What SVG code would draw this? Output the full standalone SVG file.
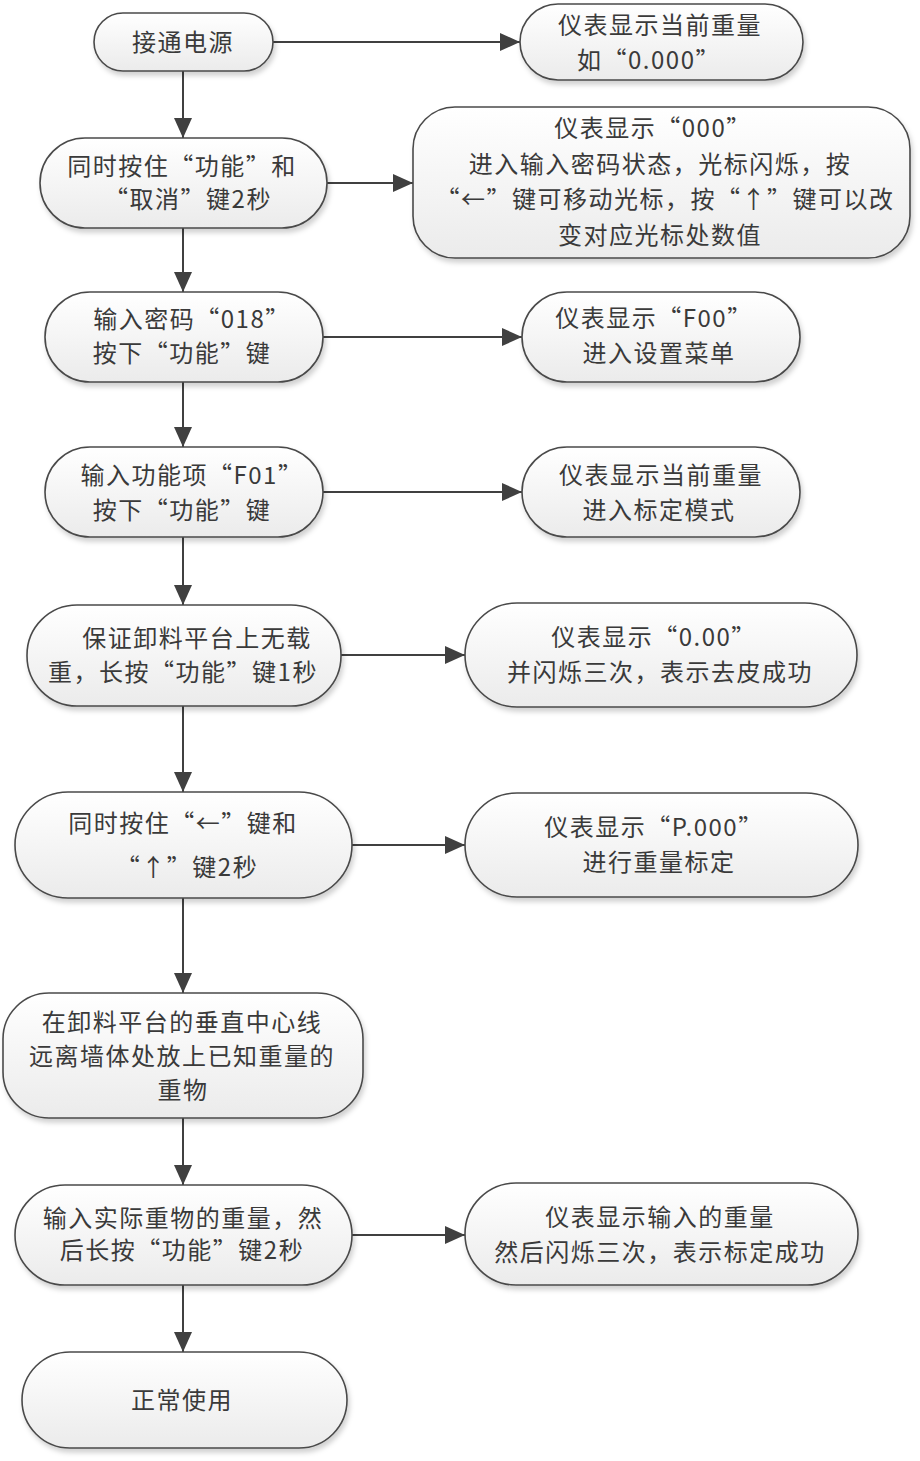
<svg xmlns="http://www.w3.org/2000/svg" width="920" height="1461" viewBox="0 0 920 1461">
<style>
.n{fill:url(#g);stroke:#4a4a4a;stroke-width:1.6;filter:url(#sh)}
.t{font-family:"Noto Sans CJK SC","Liberation Sans",sans-serif;font-size:24px;letter-spacing:1.5px;fill:#3a3a3a;text-anchor:middle}
.c{stroke:#404040;stroke-width:2;fill:none;marker-end:url(#ah)}
</style>
<defs>
<linearGradient id="g" x1="0" y1="0" x2="0" y2="1">
<stop offset="0" stop-color="#ffffff"/>
<stop offset="1" stop-color="#ebebeb"/>
</linearGradient>
<filter id="sh" x="-10%" y="-10%" width="125%" height="135%">
<feDropShadow dx="2" dy="4" stdDeviation="2.5" flood-color="#000" flood-opacity="0.18"/>
</filter>
<marker id="ah" markerUnits="userSpaceOnUse" markerWidth="20" markerHeight="18" refX="20" refY="9" orient="auto">
<path d="M0,0 L20,9 L0,18 z" fill="#404040"/>
</marker>
</defs>
<rect width="920" height="1461" fill="#fff"/>
<g id="connectors">
<line class="c" x1="183" y1="71" x2="183" y2="138"/>
<line class="c" x1="183" y1="228" x2="183" y2="292"/>
<line class="c" x1="183" y1="382" x2="183" y2="447"/>
<line class="c" x1="183" y1="537" x2="183" y2="605"/>
<line class="c" x1="183" y1="706" x2="183" y2="792"/>
<line class="c" x1="183" y1="898" x2="183" y2="993"/>
<line class="c" x1="183" y1="1118" x2="183" y2="1185"/>
<line class="c" x1="183" y1="1285" x2="183" y2="1352"/>
<line class="c" x1="273" y1="42" x2="520" y2="42"/>
<line class="c" x1="327" y1="183" x2="413" y2="183"/>
<line class="c" x1="323" y1="337" x2="522" y2="337"/>
<line class="c" x1="323" y1="492" x2="522" y2="492"/>
<line class="c" x1="341" y1="655" x2="465" y2="655"/>
<line class="c" x1="352" y1="845" x2="465" y2="845"/>
<line class="c" x1="352" y1="1235" x2="465" y2="1235"/>
</g>
<g id="n1"><rect class="n" x="94" y="13" width="179" height="58" rx="29"/>
<text class="t" x="183" y="51">接通电源</text></g>
<g id="r1"><rect class="n" x="520" y="4" width="283" height="76" rx="38"/>
<text class="t" x="660" y="34">仪表显示当前重量</text>
<text class="t" x="649" y="69">如“0.000”</text></g>
<g id="n2"><rect class="n" x="40" y="138" width="287" height="90" rx="45"/>
<text class="t" x="182" y="175">同时按住“功能”和</text>
<text class="t" x="188" y="208">“取消”键2秒</text></g>
<g id="r2"><rect class="n" x="413" y="107" width="497" height="151" rx="42"/>
<text class="t" x="653" y="137">仪表显示“000”</text>
<text class="t" x="660" y="173">进入输入密码状态，光标闪烁，按</text>
<text class="t" x="665" y="208">“←”键可移动光标，按“↑”键可以改</text>
<text class="t" x="660" y="244">变对应光标处数值</text></g>
<g id="n3"><rect class="n" x="45" y="292" width="278" height="90" rx="45"/>
<text class="t" x="192" y="328">输入密码“018”</text>
<text class="t" x="182" y="362">按下“功能”键</text></g>
<g id="r3"><rect class="n" x="522" y="292" width="278" height="90" rx="45"/>
<text class="t" x="654" y="327">仪表显示“F00”</text>
<text class="t" x="659" y="362">进入设置菜单</text></g>
<g id="n4"><rect class="n" x="45" y="447" width="278" height="90" rx="45"/>
<text class="t" x="192" y="484">输入功能项“F01”</text>
<text class="t" x="182" y="519">按下“功能”键</text></g>
<g id="r4"><rect class="n" x="522" y="447" width="278" height="90" rx="45"/>
<text class="t" x="661" y="484">仪表显示当前重量</text>
<text class="t" x="659" y="519">进入标定模式</text></g>
<g id="n5"><rect class="n" x="27" y="605" width="314" height="101" rx="50"/>
<text class="t" x="197" y="647">保证卸料平台上无载</text>
<text class="t" x="183" y="681">重，长按“功能”键1秒</text></g>
<g id="r5"><rect class="n" x="465" y="603" width="392" height="104" rx="52"/>
<text class="t" x="654" y="646">仪表显示“0.00”</text>
<text class="t" x="660" y="681">并闪烁三次，表示去皮成功</text></g>
<g id="n6"><rect class="n" x="15" y="792" width="337" height="106" rx="53"/>
<text class="t" x="183" y="832">同时按住“←”键和</text>
<text class="t" x="187" y="876">“↑”键2秒</text></g>
<g id="r6"><rect class="n" x="465" y="793" width="393" height="104" rx="52"/>
<text class="t" x="654" y="836">仪表显示“P.000”</text>
<text class="t" x="659" y="871">进行重量标定</text></g>
<g id="n7"><rect class="n" x="3" y="993" width="360" height="125" rx="46"/>
<text class="t" x="182" y="1031">在卸料平台的垂直中心线</text>
<text class="t" x="182" y="1065">远离墙体处放上已知重量的</text>
<text class="t" x="183" y="1099">重物</text></g>
<g id="n8"><rect class="n" x="15" y="1185" width="337" height="100" rx="50"/>
<text class="t" x="183" y="1227">输入实际重物的重量，然</text>
<text class="t" x="182" y="1259">后长按“功能”键2秒</text></g>
<g id="r8"><rect class="n" x="465" y="1183" width="393" height="102" rx="51"/>
<text class="t" x="660" y="1226">仪表显示输入的重量</text>
<text class="t" x="660" y="1261">然后闪烁三次，表示标定成功</text></g>
<g id="n9"><rect class="n" x="22" y="1352" width="325" height="96" rx="48"/>
<text class="t" x="182" y="1409">正常使用</text></g>
</svg>
